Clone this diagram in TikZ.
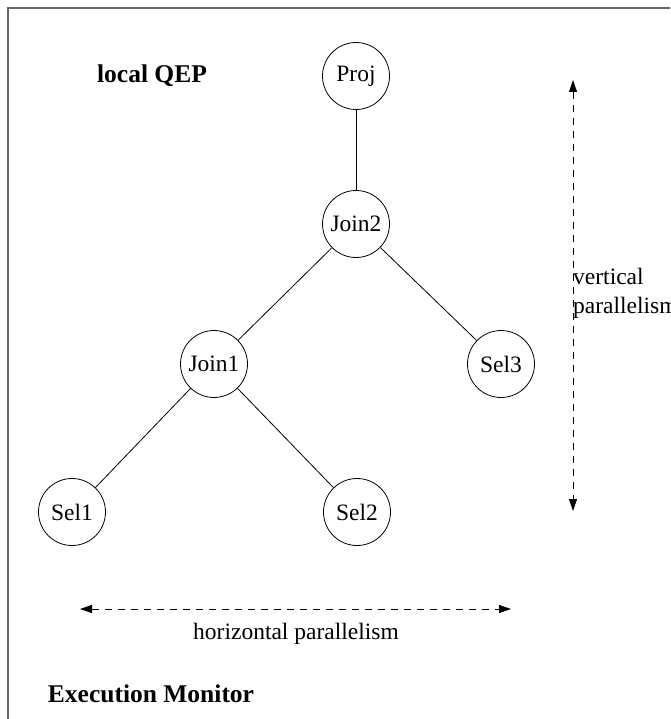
\documentclass[tikz,border=0pt]{standalone}
\usepackage{fontspec}
\setmainfont{Liberation Serif}
\usetikzlibrary{arrows.meta}
\begin{document}
\begin{tikzpicture}[x=1pt,y=-1pt,
  op/.style={draw,circle,line width=0.8pt,minimum size=67pt,inner sep=0pt,font=\fontsize{23.5}{28}\selectfont},
  edge/.style={line width=0.8pt},
  span/.style={line width=0.9pt,dash pattern=on 7pt off 6pt,{Triangle[length=12pt,width=8pt]}-{Triangle[length=12pt,width=8pt]}},
  lbl/.style={font=\fontsize{23.5}{28}\selectfont,inner sep=0pt},
  title/.style={font=\fontsize{25.5}{30}\selectfont\bfseries,inner sep=0pt}]
\useasboundingbox (0,0) rectangle (670,719);
\begin{scope}
\clip (0,0) rectangle (670,719);
\draw[line width=1.6pt,gray!80!black] (8,8) rectangle (700,760);
\end{scope}

\node[title] (local) at (152,76) {local QEP};
\node[title] (exec) at (151,694) {Execution Monitor};

\node[op] (proj) at (356,76) {Proj};
\node[op] (join2) at (356,224) {Join2};
\node[op] (join1) at (214,364) {Join1};
\node[op] (sel3) at (501,364) {Sel3};
\node[op] (sel1) at (72,512) {Sel1};
\node[op] (sel2) at (357,512) {Sel2};

\draw[edge] (proj) -- (join2);
\draw[edge] (join2) -- (join1);
\draw[edge] (join2) -- (sel3);
\draw[edge] (join1) -- (sel1);
\draw[edge] (join1) -- (sel2);

\coordinate (vtop) at (573,80);
\coordinate (vbot) at (573,511);
\draw[span] (vtop) -- (vbot);
\node[lbl,anchor=base west] (vlab1) at (573,284) {vertical};
\node[lbl,anchor=base west] (vlab2) at (573,313) {parallelism};

\coordinate (hleft) at (80,609);
\coordinate (hright) at (511,609);
\draw[span] (hleft) -- (hright);
\node[lbl] (hlab) at (296,634) {horizontal parallelism};
\end{tikzpicture}
\end{document}
